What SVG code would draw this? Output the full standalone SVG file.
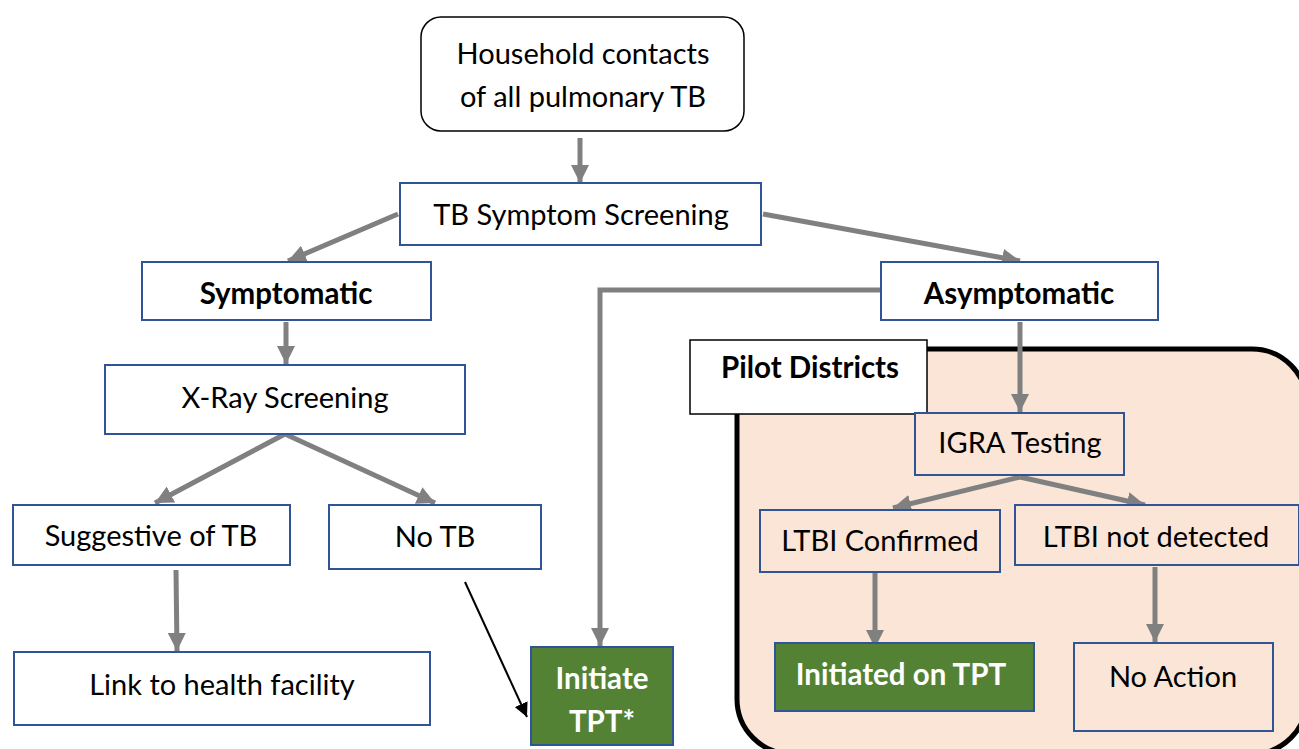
<svg xmlns="http://www.w3.org/2000/svg" width="1299" height="749" viewBox="0 0 1299 749">
  <style>
    text { font-family: Lato, "Open Sans", "Liberation Sans", sans-serif; font-size: 29px; fill: #000; text-anchor: middle; }
    .b { font-weight: bold; font-size: 29.5px; }
    .w { fill: #fff; font-weight: bold; font-size: 29.5px; }
    .box { fill: #fff; stroke: #2F5597; stroke-width: 2; }
    .pbox { fill: #FBE5D6; stroke: #2F5597; stroke-width: 2; }
    .gbox { fill: #548235; stroke: #2F5597; stroke-width: 2; }
    .flow { stroke: #808080; stroke-width: 5; fill: none; marker-end: url(#ga); }
  </style>
  <defs>
    <marker id="ga" viewBox="0 0 10 10" refX="10" refY="5" markerWidth="18" markerHeight="18" markerUnits="userSpaceOnUse" orient="auto">
      <path d="M0,0 L10,5 L0,10 z" fill="#808080"/>
    </marker>
    <marker id="ka" viewBox="0 0 10 10" refX="10" refY="5" markerWidth="14" markerHeight="14" markerUnits="userSpaceOnUse" orient="auto">
      <path d="M0,0 L10,5 L0,10 z" fill="#000"/>
    </marker>
  </defs>

  <!-- Pilot districts region -->
  <g id="pilot-region">
    <rect x="737" y="349" width="570" height="405" rx="55" fill="#FBE5D6" stroke="#000" stroke-width="5"/>
  </g>

  <!-- connectors -->
  <g id="connectors">
    <line class="flow" x1="580" y1="138" x2="580" y2="183"/>
    <line class="flow" x1="398" y1="214" x2="288" y2="261"/>
    <line class="flow" x1="763" y1="214" x2="1020" y2="261"/>
    <line class="flow" x1="286" y1="322" x2="286" y2="364"/>
    <line class="flow" x1="285" y1="434" x2="155" y2="503"/>
    <line class="flow" x1="285" y1="434" x2="435" y2="503"/>
    <line class="flow" x1="176" y1="570" x2="177" y2="651"/>
    <line x1="465" y1="582" x2="527" y2="717" stroke="#000" stroke-width="2" marker-end="url(#ka)"/>
    <polyline class="flow" points="882,290 600,290 600,646"/>
    <line class="flow" x1="1020" y1="322" x2="1020" y2="412"/>
    <line class="flow" x1="1020" y1="477" x2="893" y2="508"/>
    <line class="flow" x1="1020" y1="477" x2="1145" y2="505"/>
    <line class="flow" x1="875" y1="573" x2="875" y2="648"/>
    <line class="flow" x1="1155" y1="567" x2="1155" y2="642"/>
  </g>

  <g id="household">
    <rect x="421" y="17" width="323" height="114" rx="20" fill="#fff" stroke="#000" stroke-width="1.5"/>
    <text x="583" y="64">Household contacts</text>
    <text x="583" y="107">of all pulmonary TB</text>
  </g>

  <g id="symptom-screening">
    <rect class="box" x="400" y="183" width="361" height="62"/>
    <text x="581" y="225">TB Symptom Screening</text>
  </g>

  <g id="symptomatic">
    <rect class="box" x="142" y="262" width="289" height="58"/>
    <text class="b" x="286" y="304">Symptomatic</text>
  </g>

  <g id="asymptomatic">
    <rect class="box" x="881" y="262" width="277" height="58"/>
    <text class="b" x="1019" y="304">Asymptomatic</text>
  </g>

  <g id="xray">
    <rect class="box" x="105" y="365" width="360" height="69"/>
    <text x="285" y="408">X-Ray Screening</text>
  </g>

  <g id="suggestive">
    <rect class="box" x="13" y="505" width="277" height="60"/>
    <text x="151" y="546">Suggestive of TB</text>
  </g>

  <g id="no-tb">
    <rect class="box" x="329" y="505" width="212" height="64"/>
    <text x="435" y="547">No TB</text>
  </g>

  <g id="link-facility">
    <rect class="box" x="14" y="652" width="416" height="73"/>
    <text x="222" y="695">Link to health facility</text>
  </g>

  <g id="initiate-tpt">
    <rect class="gbox" x="531" y="647" width="142" height="98"/>
    <text class="w" x="602" y="689">Initiate</text>
    <text class="w" x="602" y="732">TPT*</text>
  </g>

  <g id="pilot-label">
    <rect x="690" y="340" width="237" height="74" fill="#fff" stroke="#000" stroke-width="1.5"/>
    <text class="b" x="810" y="378">Pilot Districts</text>
  </g>

  <g id="igra">
    <rect class="pbox" x="915" y="413" width="209" height="62"/>
    <text x="1020" y="453">IGRA Testing</text>
  </g>

  <g id="ltbi-confirmed">
    <rect class="pbox" x="760" y="510" width="240" height="62"/>
    <text x="880" y="551">LTBI Confirmed</text>
  </g>

  <g id="ltbi-not-detected">
    <rect class="pbox" x="1015" y="505" width="284" height="60"/>
    <text x="1156" y="547">LTBI not detected</text>
  </g>

  <g id="initiated-tpt">
    <rect class="gbox" x="775" y="643" width="259" height="68"/>
    <text class="w" x="901" y="685">Initiated on TPT</text>
  </g>

  <g id="no-action">
    <rect class="pbox" x="1074" y="643" width="199" height="88"/>
    <text x="1173" y="687">No Action</text>
  </g>
</svg>
